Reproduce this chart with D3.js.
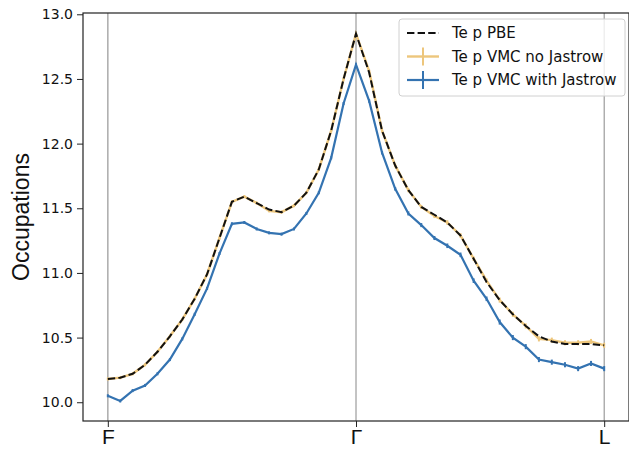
<!DOCTYPE html>
<html>
<head>
<meta charset="utf-8">
<script src="https://cdn.jsdelivr.net/npm/d3@7"></script>
<style>
  body { margin: 0; background: #fff; }
  text { font-family: "DejaVu Sans", sans-serif; }
</style>
</head>
<body>
<div id="chart"></div>
<script>
// k-path coordinate: F = 0, Gamma = 1, L = 2
const kpath = [0, 0.05, 0.1, 0.15, 0.2, 0.25, 0.3, 0.35, 0.4, 0.45, 0.5, 0.55, 0.6, 0.65, 0.7, 0.75, 0.8, 0.85, 0.9, 0.95, 1.0,
  1.053, 1.105, 1.158, 1.211, 1.263, 1.316, 1.368, 1.421, 1.474, 1.526, 1.579, 1.632, 1.684, 1.737, 1.789, 1.842, 1.895, 1.947, 2.0];

const pbe = [10.18, 10.19, 10.22, 10.29, 10.39, 10.51, 10.64, 10.80, 10.99, 11.27, 11.55, 11.59, 11.54, 11.49, 11.47, 11.52, 11.62, 11.80, 12.10, 12.50, 12.85,
  12.55, 12.10, 11.83, 11.64, 11.51, 11.45, 11.39, 11.29, 11.11, 10.93, 10.79, 10.68, 10.59, 10.51, 10.47, 10.45, 10.45, 10.45, 10.44];

const vmcNoJ = [10.18, 10.19, 10.22, 10.29, 10.39, 10.51, 10.64, 10.80, 10.99, 11.27, 11.55, 11.59, 11.54, 11.48, 11.47, 11.52, 11.62, 11.80, 12.10, 12.50, 12.85,
  12.56, 12.10, 11.83, 11.64, 11.51, 11.44, 11.39, 11.29, 11.11, 10.94, 10.79, 10.68, 10.59, 10.49, 10.48, 10.46, 10.46, 10.47, 10.44];
const errNoJ = [0.004, 0.004, 0.004, 0.004, 0.004, 0.004, 0.004, 0.004, 0.004, 0.004, 0.004, 0.004, 0.004, 0.004, 0.004, 0.004, 0.004, 0.004, 0.004, 0.004, 0.004,
  0.006, 0.006, 0.006, 0.008, 0.008, 0.008, 0.010, 0.010, 0.010, 0.010, 0.012, 0.012, 0.012, 0.012, 0.012, 0.012, 0.012, 0.012, 0.012];

const vmcJ = [10.05, 10.01, 10.09, 10.13, 10.22, 10.33, 10.49, 10.68, 10.88, 11.15, 11.38, 11.39, 11.34, 11.31, 11.30, 11.34, 11.46, 11.62, 11.89, 12.31, 12.61,
  12.33, 11.93, 11.65, 11.46, 11.37, 11.27, 11.21, 11.14, 10.94, 10.80, 10.62, 10.50, 10.43, 10.33, 10.31, 10.29, 10.26, 10.30, 10.26];
const errJ = [0.004, 0.004, 0.004, 0.004, 0.004, 0.004, 0.004, 0.004, 0.004, 0.004, 0.004, 0.004, 0.004, 0.004, 0.004, 0.004, 0.004, 0.004, 0.004, 0.004, 0.004,
  0.006, 0.006, 0.006, 0.008, 0.008, 0.008, 0.010, 0.010, 0.010, 0.010, 0.012, 0.012, 0.012, 0.012, 0.012, 0.012, 0.012, 0.012, 0.012];

const kTicks = [0, 1, 2];
const kLabels = ['F', 'Γ', 'L'];
const yTicks = [10.0, 10.5, 11.0, 11.5, 12.0, 12.5, 13.0];
const seriesNames = ['Te p PBE', 'Te p VMC no Jastrow', 'Te p VMC with Jastrow'];

const width = 629, height = 449;
const margin = { left: 83, right: 0, top: 13, bottom: 28 };

const svg = d3.select('#chart').append('svg')
  .attr('width', width).attr('height', height);

const x = d3.scaleLinear().domain([-0.1, 2.1]).range([margin.left, width - margin.right]);
const y = d3.scaleLinear().domain([9.855, 13.01]).range([height - margin.bottom, margin.top]);

// high-symmetry lines
svg.append('g').selectAll('line')
  .data(kTicks)
  .join('line')
  .attr('x1', d => x(d)).attr('x2', d => x(d))
  .attr('y1', y.range()[1]).attr('y2', y.range()[0])
  .attr('stroke', (d, i) => i === 0 ? '#b0b0b0' : '#888')
  .attr('stroke-width', (d, i) => i === 0 ? 1.6 : 1);

const pts = kpath.map((k, i) => ({ k, pbe: pbe[i], noj: vmcNoJ[i], ej: errNoJ[i], j: vmcJ[i], ejj: errJ[i] }));

const line = key => d3.line().x(d => x(d.k)).y(d => y(d[key]));

const orange = '#edc67c';
const blue = '#3473b1';

// no Jastrow (orange) with error bars
svg.append('path').datum(pts)
  .attr('d', line('noj')).attr('fill', 'none')
  .attr('stroke', orange).attr('stroke-width', 2.4);
svg.append('g').selectAll('line')
  .data(pts).join('line')
  .attr('x1', d => x(d.k)).attr('x2', d => x(d.k))
  .attr('y1', d => y(d.noj - d.ej) + 1).attr('y2', d => y(d.noj + d.ej) - 1)
  .attr('stroke', orange).attr('stroke-width', 2);

// PBE dashed
svg.append('path').datum(pts)
  .attr('d', line('pbe')).attr('fill', 'none')
  .attr('stroke', '#111').attr('stroke-width', 2)
  .attr('stroke-dasharray', '7.4,3.2');

// with Jastrow (blue)
svg.append('path').datum(pts)
  .attr('d', line('j')).attr('fill', 'none')
  .attr('stroke', blue).attr('stroke-width', 2.2);
svg.append('g').selectAll('line')
  .data(pts).join('line')
  .attr('x1', d => x(d.k)).attr('x2', d => x(d.k))
  .attr('y1', d => y(d.j - d.ejj) + 1).attr('y2', d => y(d.j + d.ejj) - 1)
  .attr('stroke', blue).attr('stroke-width', 2);

// spines
svg.append('rect')
  .attr('x', margin.left).attr('y', margin.top)
  .attr('width', width - margin.right - margin.left)
  .attr('height', height - margin.bottom - margin.top)
  .attr('fill', 'none').attr('stroke', '#222').attr('stroke-width', 1.2);

// y axis
const yAxis = svg.append('g')
  .attr('transform', `translate(${margin.left},0)`)
  .call(d3.axisLeft(y).tickValues(yTicks).tickFormat(d3.format('.1f')).tickSize(6).tickPadding(4));
yAxis.select('.domain').remove();
yAxis.selectAll('text').attr('font-size', 14).attr('fill', '#111');
yAxis.selectAll('line').attr('stroke', '#222');

// x axis
const xAxis = svg.append('g')
  .attr('transform', `translate(0,${height - margin.bottom})`)
  .call(d3.axisBottom(x).tickValues(kTicks).tickFormat((d, i) => kLabels[i]).tickSize(6).tickPadding(2));
xAxis.select('.domain').remove();
xAxis.selectAll('text')
  .attr('font-size', 21).attr('fill', '#111')
  .style('font-family', '"Liberation Sans", Arial, sans-serif');
xAxis.selectAll('line').attr('stroke', '#222');

// y label
svg.append('text')
  .attr('transform', `translate(29,${(margin.top + height - margin.bottom) / 2}) rotate(-90)`)
  .attr('text-anchor', 'middle')
  .attr('font-size', 23)
  .attr('fill', '#111')
  .style('font-family', '"Liberation Sans", Arial, sans-serif')
  .text('Occupations');

// legend
const lg = svg.append('g').attr('transform', 'translate(399,19)');
lg.append('rect')
  .attr('x', 0).attr('y', 0).attr('width', 226).attr('height', 77)
  .attr('rx', 3).attr('fill', 'rgba(255,255,255,0.8)')
  .attr('stroke', '#d0d0d0');
const rows = [
  { color: '#111', dash: '7.4,3.2', err: false, w: 2 },
  { color: orange, dash: null, err: true, w: 2.4 },
  { color: blue, dash: null, err: true, w: 2.2 }
];
rows.forEach((r, i) => {
  const cy = 14 + i * 23.5;
  lg.append('line')
    .attr('x1', 8).attr('x2', 40).attr('y1', cy).attr('y2', cy)
    .attr('stroke', r.color).attr('stroke-width', r.w)
    .attr('stroke-dasharray', r.dash);
  if (r.err) {
    lg.append('line')
      .attr('x1', 24).attr('x2', 24).attr('y1', cy - 9).attr('y2', cy + 9)
      .attr('stroke', r.color).attr('stroke-width', 2);
  }
  lg.append('text')
    .attr('x', 53).attr('y', cy + 5)
    .attr('font-size', 15).attr('fill', '#111')
    .text(seriesNames[i]);
});
</script>
</body>
</html>
